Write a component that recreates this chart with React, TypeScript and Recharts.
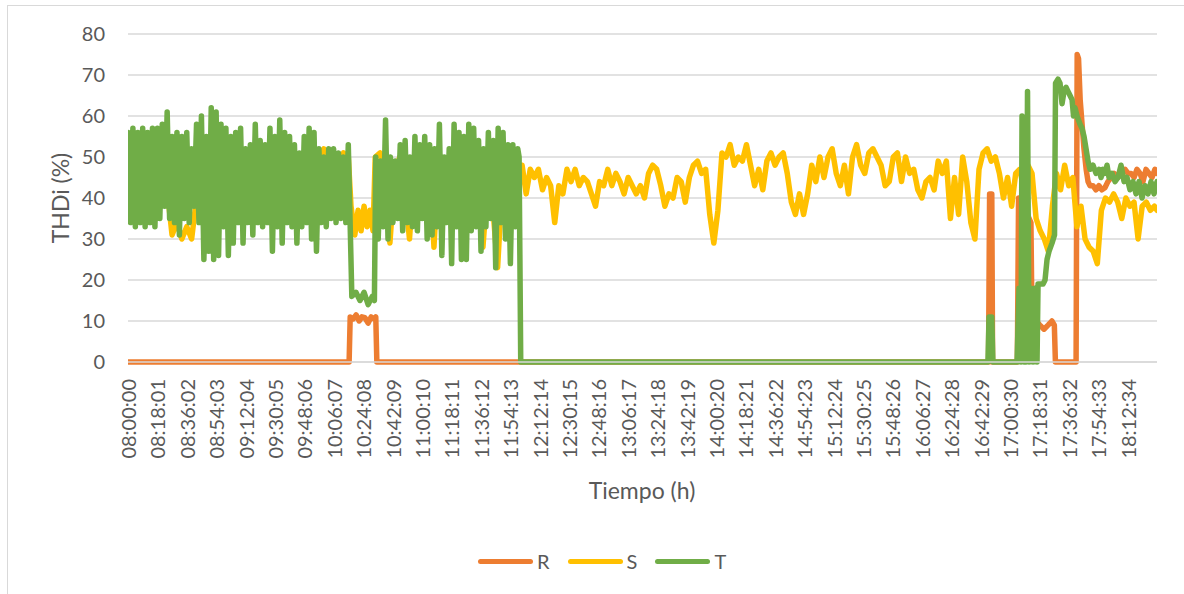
import { CartesianGrid, Line, LineChart, XAxis, YAxis } from "recharts";

// category labels shown on the time axis (one every 18:01)
const tickLabels = [
  "08:00:00", "08:18:01", "08:36:02", "08:54:03", "09:12:04", "09:30:05", "09:48:06",
  "10:06:07", "10:24:08", "10:42:09", "11:00:10", "11:18:11", "11:36:12", "11:54:13",
  "12:12:14", "12:30:15", "12:48:16", "13:06:17", "13:24:18", "13:42:19", "14:00:20",
  "14:18:21", "14:36:22", "14:54:23", "15:12:24", "15:30:25", "15:48:26", "16:06:27",
  "16:24:28", "16:42:29", "17:00:30", "17:18:31", "17:36:32", "17:54:33", "18:12:34",
];
const yTicks = [0, 10, 20, 30, 40, 50, 60, 70, 80];
const END_SEC = 37835; // last reading, seconds after 08:00:00

// R phase: [seconds after 08:00, THDi %]
const rPoints = [
  [0, 0], [8130, 0], [8170, 11], [8280, 10.5], [8390, 11.5], [8500, 10], [8600, 11], [8710, 10.8],
  [8830, 9.5], [8940, 11], [9050, 10.5], [9110, 11], [9150, 0],
  [31640, 0], [31680, 41], [31760, 41], [31790, 0],
  [32700, 0], [32745, 40], [32830, 30], [32980, 38], [33130, 35], [33200, 34], [33240, 9],
  [33390, 10], [33530, 9], [33680, 8], [33830, 9], [33970, 10], [34060, 9], [34100, 0],
  [34860, 0], [34900, 75], [34950, 74], [35010, 64], [35080, 58], [35150, 52], [35230, 47],
  [35300, 44], [35370, 43], [35480, 43], [35590, 42], [35700, 43], [35810, 42], [35920, 42.5],
  [36030, 44], [36150, 45], [36260, 46], [36400, 45], [36510, 46], [36660, 47], [36770, 46],
  [36880, 46], [36990, 45], [37100, 47], [37210, 46], [37320, 44], [37430, 47], [37540, 46],
  [37650, 45], [37760, 47], [37835, 46],
];

// S phase, readings every 180 s from 08:00:00
const sMorning = [
  45, 40, 46, 38, 44, 41, 47, 40, 42, 31,
  34, 30, 33, 30, 40, 45, 38, 46, 40, 44,
  39, 45, 41, 46, 40, 44, 38, 45, 41, 46,
  40, 47, 42, 48, 42, 47, 44, 49, 45, 50,
  52, 49, 51, 48, 51, 50,
];
const sDip = [[8200, 38], [8340, 31], [8460, 37], [8570, 32], [8680, 38], [8790, 33], [8900, 37], [9010, 32]];
// every 180 s from 9090 s
const sLateMorning = [
  50, 51, 44, 29, 46, 50, 42, 30, 47, 50,
  43, 50, 28, 51, 45, 50, 38, 46, 42, 47,
  40, 45, 28, 44, 38, 23, 45, 40, 46, 42,
];
// every 150 s from 14490 s
const sAfternoon = [
  48, 41, 47, 45, 47, 42, 45, 43, 34, 43,
  41, 47, 44, 47, 43, 45, 44, 41, 38, 44,
  43, 47, 43, 46, 44, 41, 45, 43, 41, 43,
  40, 46, 48, 47, 43, 38, 41, 40, 45, 44,
  39, 45, 48, 49, 46, 47, 36, 29, 37, 51,
  50, 53, 48, 50, 49, 53, 48, 43, 47, 42,
  49, 51, 48, 50, 51, 46, 39, 36, 41, 36,
  41, 48, 44, 50, 45, 50, 52, 46, 43, 48,
  41, 50, 53, 48, 46, 51, 52, 50, 48, 43,
  44, 50, 51, 44, 50, 46, 47, 42, 40, 44,
  45, 42, 49, 46, 49, 35, 45, 36, 50, 44,
  34, 30, 47, 51, 52, 49, 50, 46, 40, 45,
  38, 46, 47, 42, 48, 46, 35, 32, 30, 27,
  38, 46, 42, 48, 43, 45, 33, 38, 30, 28,
  27, 24, 37, 40, 39, 41, 39, 35, 40, 38,
  39, 30, 38, 39, 37, 38,
];
const sEnd = [[37835, 37]];

// T phase, readings every 90 s from 08:00:00
const tMorning = [
  56, 34, 57, 33, 56, 34, 57, 33, 56, 34,
  57, 33, 57, 35, 58, 38, 61, 35, 55, 34,
  56, 31, 55, 35, 56, 34, 52, 38, 58, 34,
  60, 25, 55, 27, 62, 25, 61, 26, 58, 33,
  57, 26, 55, 29, 56, 34, 57, 29, 52, 34,
  53, 31, 58, 34, 54, 33, 53, 34, 57, 27,
  55, 33, 59, 29, 56, 34, 55, 33, 53, 29,
  51, 33, 55, 34, 57, 30, 56, 27, 52, 34,
  50, 33, 52, 35, 52, 34, 51, 35, 50, 34,
  53,
];
const tDip = [[8230, 16], [8380, 17], [8530, 15], [8680, 17], [8830, 14], [8980, 16], [9060, 15]];
// every 90 s from 9110 s
const tLateMorning = [
  50, 30, 49, 33, 59, 30, 50, 34, 49, 35,
  53, 32, 54, 34, 50, 33, 55, 32, 53, 35,
  55, 30, 53, 31, 52, 33, 58, 26, 50, 34,
  52, 24, 58, 33, 56, 25, 55, 25, 58, 32,
  57, 33, 54, 27, 52, 33, 56, 35, 54, 23,
  57, 34, 56, 30, 53, 24, 53, 33, 52,
];
const tAfternoon = [
  [14380, 50], [14440, 0], [31620, 0], [31660, 11], [31760, 11], [31800, 0], [32690, 0],
  [32762, 18], [32835, 0], [32872, 60], [32945, 0], [32982, 18], [33019, 0], [33074, 66],
  [33130, 0], [33203, 18], [33277, 0], [33350, 18], [33424, 0], [33461, 19], [33534, 19],
  [33645, 19], [33718, 20], [33792, 25], [33865, 27], [33975, 29], [34067, 31], [34104, 68],
  [34196, 69], [34270, 68], [34343, 63], [34417, 66], [34490, 67], [34564, 66], [34637, 65],
  [34711, 64], [34766, 60], [34821, 62], [34895, 60], [35005, 58], [35078, 57], [35152, 55],
  [35226, 52], [35299, 49], [35373, 47], [35483, 48], [35593, 46], [35704, 47], [35777, 45],
  [35850, 47], [35924, 46], [35998, 48], [36071, 45], [36182, 46], [36292, 44], [36402, 45],
  [36513, 48], [36623, 44], [36733, 45], [36843, 42], [36954, 44], [37064, 41], [37174, 44],
  [37284, 40], [37394, 43], [37505, 41], [37615, 44], [37725, 41], [37835, 44],
];

type Pt = { t: number; v: number };
const block = (start: number, step: number, values: number[]): Pt[] =>
  values.map((v, i) => ({ t: start + i * step, v }));
const pairs = (list: number[][]): Pt[] => list.map(([t, v]) => ({ t, v }));

const toSec = (s: string) => {
  const [h, m, sec] = s.split(":").map(Number);
  return (h - 8) * 3600 + m * 60 + sec;
};
const tickSecs = tickLabels.map(toSec);
const labelAt = new Map(tickSecs.map((s, i) => [s, tickLabels[i]]));

const series = [
  { name: "R", color: "#ED7D31", data: pairs(rPoints) },
  {
    name: "S",
    color: "#FFC000",
    data: [
      ...block(0, 180, sMorning),
      ...pairs(sDip),
      ...block(9090, 180, sLateMorning),
      ...block(14490, 150, sAfternoon),
      ...pairs(sEnd),
    ],
  },
  {
    name: "T",
    color: "#70AD47",
    data: [
      ...block(0, 90, tMorning),
      ...pairs(tDip),
      ...block(9110, 90, tLateMorning),
      ...pairs(tAfternoon),
    ],
  },
];

const FONT = "Lato, 'Open Sans', sans-serif";
const TEXT = "#595959";

function TimeTick({ x, y, payload }: any) {
  const ty = y + 9;
  return (
    <text
      x={x}
      y={ty}
      transform={`rotate(-90 ${x} ${ty})`}
      textAnchor="end"
      dominantBaseline="central"
      fill={TEXT}
      fontSize={20}
      fontFamily={FONT}
    >
      {labelAt.get(payload.value) ?? ""}
    </text>
  );
}

export default function App() {
  return (
    <div style={{ position: "absolute", left: 0, top: 0, width: 1184, height: 594, background: "#fff", overflow: "hidden", fontFamily: FONT }}>
      <div style={{ position: "absolute", left: 7, top: 5, width: 1190, height: 600, border: "1px solid #d9d9d9" }} />
      <LineChart
        width={1184}
        height={594}
        margin={{ top: 34, right: 27, bottom: 132, left: 68 }}
        style={{ position: "absolute", left: 0, top: 0 }}
      >
        <CartesianGrid vertical={false} stroke="#d9d9d9" strokeWidth={1.5} />
        <XAxis
          type="number"
          dataKey="t"
          domain={[0, END_SEC]}
          ticks={tickSecs}
          interval={0}
          height={100}
          tick={<TimeTick />}
          axisLine={{ stroke: "#d9d9d9", strokeWidth: 1.5 }}
          tickLine={false}
          allowDataOverflow
        />
        <YAxis
          type="number"
          domain={[0, 80]}
          ticks={yTicks}
          width={60}
          tickMargin={17}
          axisLine={false}
          tickLine={false}
          tick={{ fill: TEXT, fontSize: 20, fontFamily: FONT }}
        />
        {series.map((s) => (
          <Line
            key={s.name}
            data={s.data}
            dataKey="v"
            name={s.name}
            type="linear"
            stroke={s.color}
            strokeWidth={5.5}
            strokeLinejoin="round"
            strokeLinecap="round"
            dot={false}
            activeDot={false}
            isAnimationActive={false}
          />
        ))}
      </LineChart>
      <div
        style={{
          position: "absolute",
          left: 60,
          top: 198,
          transform: "translate(-50%, -50%) rotate(-90deg)",
          color: TEXT,
          fontSize: 23,
          whiteSpace: "nowrap",
        }}
      >
        THDi (%)
      </div>
      <div
        style={{
          position: "absolute",
          left: 642,
          top: 490,
          transform: "translate(-50%, -50%)",
          color: TEXT,
          fontSize: 23,
          whiteSpace: "nowrap",
        }}
      >
        Tiempo (h)
      </div>
      <div style={{ position: "absolute", left: 478, top: 547, display: "flex", alignItems: "center", height: 28 }}>
        {series.map((s) => (
          <div key={s.name} style={{ display: "flex", alignItems: "center", marginRight: 18 }}>
            <div style={{ width: 55, height: 5, borderRadius: 3, background: s.color, marginRight: 4 }} />
            <span style={{ color: TEXT, fontSize: 20 }}>{s.name}</span>
          </div>
        ))}
      </div>
    </div>
  );
}
